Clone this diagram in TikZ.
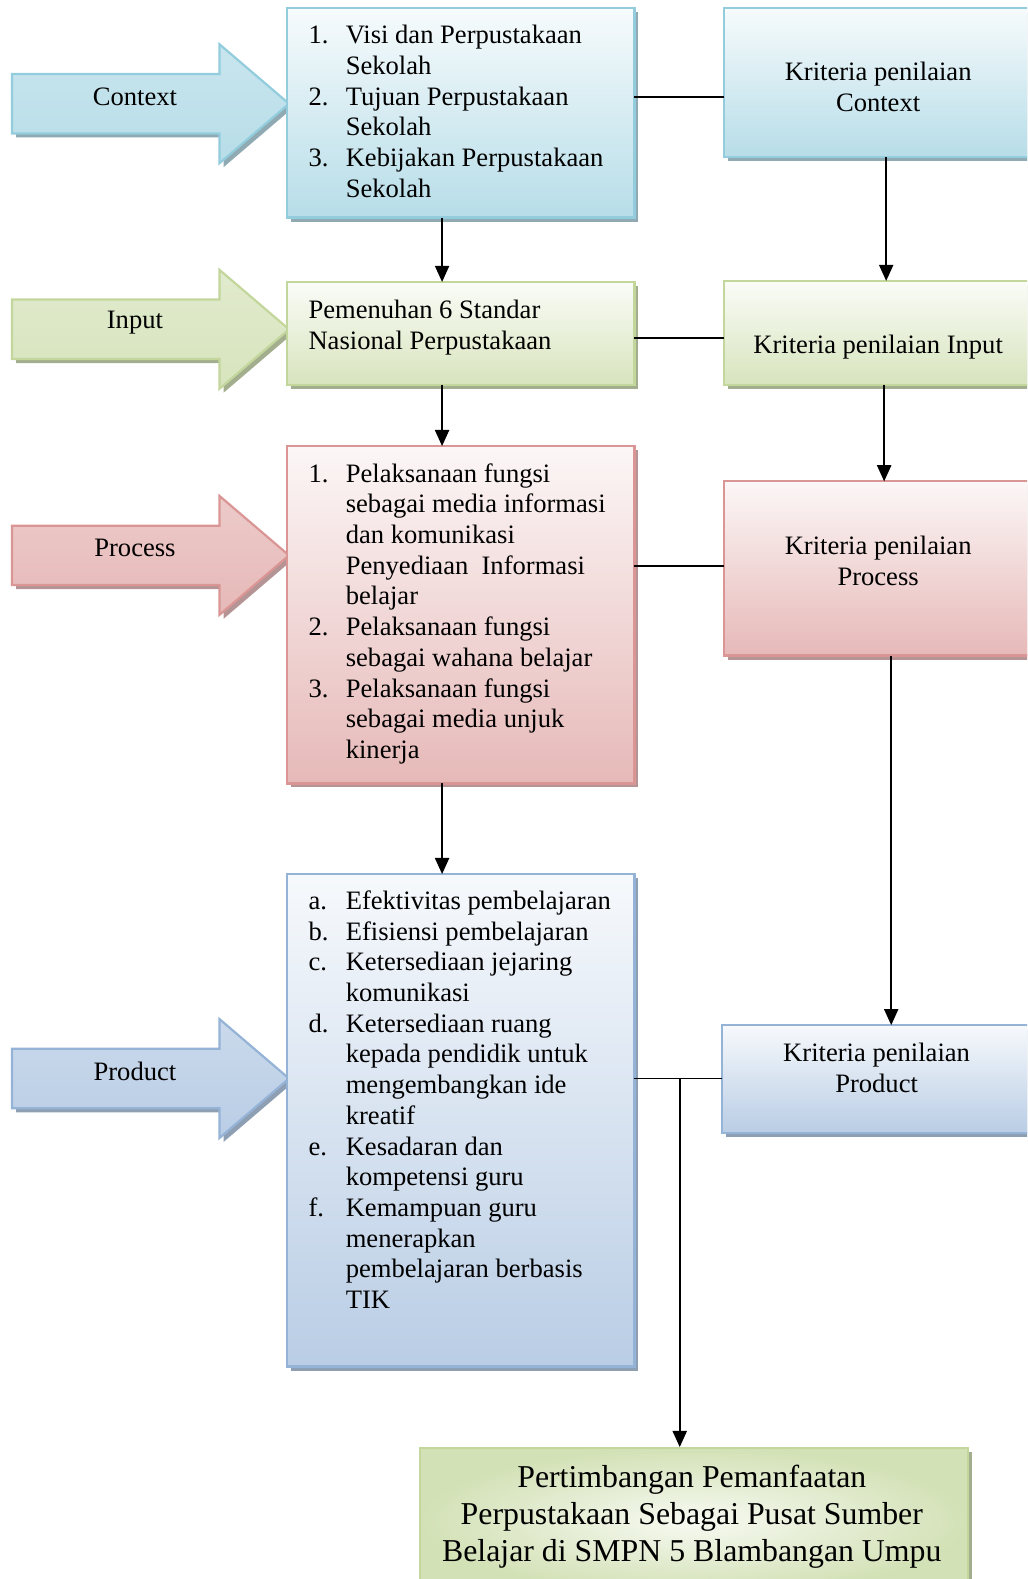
\documentclass[tikz,border=0pt]{standalone}
\usepackage{fontspec}
\setmainfont{Liberation Serif}
\usepackage{xcolor}
\usepackage{tikz}
\usetikzlibrary{arrows.meta,shadows}

\definecolor{ctxline}{HTML}{93CDDD}
\definecolor{ctxfill}{HTML}{B7DDE8}
\definecolor{ctxshade}{HTML}{8FAAB2}
\definecolor{inpline}{HTML}{C3D69B}
\definecolor{inpfill}{HTML}{D7E4BD}
\definecolor{inpshade}{HTML}{A3AE8E}
\definecolor{procline}{HTML}{D99694}
\definecolor{procfill}{HTML}{E6B9B8}
\definecolor{procshade}{HTML}{B49494}
\definecolor{prodline}{HTML}{95B3D7}
\definecolor{prodfill}{HTML}{B9CDE5}
\definecolor{prodshade}{HTML}{8E9FB3}

\newcommand{\itm}[1]{\makebox[18.5pt][l]{#1}}
\newcommand{\blockarrow}[4]{%
  \path[shadearrow=#3] (12,#2-29.5) -- (218,#2-29.5) -- (218,#2-59) -- (287,#2)
    -- (218,#2+59) -- (218,#2+29.5) -- (12,#2+29.5) -- cycle;
  \node[lbl] (#1) at (134,#2-7) {#4};
}

\tikzset{
  txt/.style={font=\fontsize{13.2pt}{15.25pt}\selectfont, inner sep=0pt},
  lbl/.style={txt},
  list/.style={txt, align=left, anchor=west},
  crit/.style={txt, align=center},
  tone/.style={draw=#1line, drop shadow={shadow xshift=2pt, shadow yshift=-2pt, fill=#1shade, opacity=1}},
  shadebox/.style={tone=#1, anchor=north west, inner sep=0pt, outer sep=0pt, line width=1.1pt,
    top color=#1fill!12, bottom color=#1fill},
  shadearrow/.style={tone=#1, line width=1.1pt, top color=#1fill!75, middle color=#1fill!25, bottom color=#1fill},
  arr/.style={line width=0.9pt, -{Triangle[width=7pt,length=8pt]}},
  line/.style={line width=0.9pt}
}

\begin{document}
\begin{tikzpicture}[x=0.5pt, y=-0.5pt]
\useasboundingbox (0,0) rectangle (1020,1568);
\clip (0,0) rectangle (1020,1568);

\blockarrow{context}{103}{ctx}{Context}
\blockarrow{input}{327}{inp}{Input}
\blockarrow{process}{551.5}{proc}{Process}
\blockarrow{product}{1071}{prod}{Product}

\node[shadebox=ctx, minimum width=172.5pt, minimum height=104pt] (ctx) at (285,8) {};
\node[shadebox=inp, minimum width=172.5pt, minimum height=51pt] (inp) at (285,280) {};
\node[shadebox=proc, minimum width=172.5pt, minimum height=167.5pt] (proc) at (285,443) {};
\node[shadebox=prod, minimum width=172.5pt, minimum height=244.5pt] (prod) at (285,868) {};

\node[shadebox=ctx, minimum width=153pt, minimum height=74pt] (kctx) at (719,8) {};
\node[shadebox=inp, minimum width=153pt, minimum height=51.5pt] (kinp) at (719,279) {};
\node[shadebox=proc, minimum width=153pt, minimum height=86.5pt] (kproc) at (719,478) {};
\node[shadebox=prod, minimum width=153.5pt, minimum height=53.5pt] (kprod) at (717,1018) {};

\node[anchor=north west, inner sep=0pt, line width=1.1pt, draw=inpline,
  inner color=inpfill!20, outer color=inpfill!80!inpline,
  drop shadow={shadow xshift=2pt, shadow yshift=-2pt, fill=inpshade, opacity=1},
  minimum width=272pt, minimum height=72pt] (res) at (416,1437) {};

\node[list] (ctxtext) at (306,110.5) {\itm{1.}Visi dan Perpustakaan\\ \itm{}Sekolah\\
  \itm{2.}Tujuan Perpustakaan\\ \itm{}Sekolah\\ \itm{3.}Kebijakan Perpustakaan\\ \itm{}Sekolah};
\node[list] (inptext) at (306,325) {Pemenuhan 6 Standar\\ Nasional Perpustakaan};
\node[list] (proctext) at (306,609.5) {\itm{1.}Pelaksanaan fungsi\\ \itm{}sebagai media informasi\\
  \itm{}dan komunikasi\\ \itm{}Penyediaan\ \ Informasi\\ \itm{}belajar\\
  \itm{2.}Pelaksanaan fungsi\\ \itm{}sebagai wahana belajar\\
  \itm{3.}Pelaksanaan fungsi\\ \itm{}sebagai media unjuk\\ \itm{}kinerja};
\node[list] (prodtext) at (306,1092) {\itm{a.}Efektivitas pembelajaran\\ \itm{b.}Efisiensi pembelajaran\\
  \itm{c.}Ketersediaan jejaring\\ \itm{}komunikasi\\ \itm{d.}Ketersediaan ruang\\
  \itm{}kepada pendidik untuk\\ \itm{}mengembangkan ide\\ \itm{}kreatif\\
  \itm{e.}Kesadaran dan\\ \itm{}kompetensi guru\\ \itm{f.}Kemampuan guru\\
  \itm{}menerapkan\\ \itm{}pembelajaran berbasis\\ \itm{}TIK};

\node[crit] (kctxtext) at (872,86.5) {Kriteria penilaian\\ Context};
\node[crit] (kinptext) at (872,345) {Kriteria penilaian Input};
\node[crit] (kproctext) at (872,557) {Kriteria penilaian\\ Process};
\node[crit] (kprodtext) at (870.5,1060.5) {Kriteria penilaian\\ Product};
\node[crit, font=\fontsize{15.8pt}{18.5pt}\selectfont] (restext) at (687,1506)
  {Pertimbangan Pemanfaatan\\ Perpustakaan Sebagai Pusat Sumber\\ Belajar di SMPN 5 Blambangan Umpu};

\draw[arr] ([xshift=-9.25pt]ctx.south) -- ([xshift=-9.25pt]ctx.south |- inp.north);
\draw[arr] ([xshift=-9.25pt]inp.south) -- ([xshift=-9.25pt]inp.south |- proc.north);
\draw[arr] ([xshift=-9.25pt]proc.south) -- ([xshift=-9.25pt]proc.south |- prod.north);
\draw[arr] ([xshift=4pt]kctx.south) -- ([xshift=4pt]kctx.south |- kinp.north);
\draw[arr] ([xshift=3pt]kinp.south) -- ([xshift=3pt]kinp.south |- kproc.north);
\draw[arr] ([xshift=6.5pt]kproc.south) -- ([xshift=6.5pt]kproc.south |- kprod.north);

\draw[line] ([yshift=8pt]ctx.east) -- ([yshift=8pt]ctx.east -| kctx.west);
\draw[line] ([yshift=-2.5pt]inp.east) -- ([yshift=-2.5pt]inp.east -| kinp.west);
\draw[line] ([yshift=24.25pt]proc.east) -- ([yshift=24.25pt]proc.east -| kproc.west);
\draw[line] ([yshift=20.75pt]prod.east) -- ([yshift=20.75pt]prod.east -| kprod.west);
\coordinate (split) at ([xshift=22.5pt, yshift=20.75pt]prod.east);
\draw[arr] (split) -- (split |- res.north);
\end{tikzpicture}
\end{document}
